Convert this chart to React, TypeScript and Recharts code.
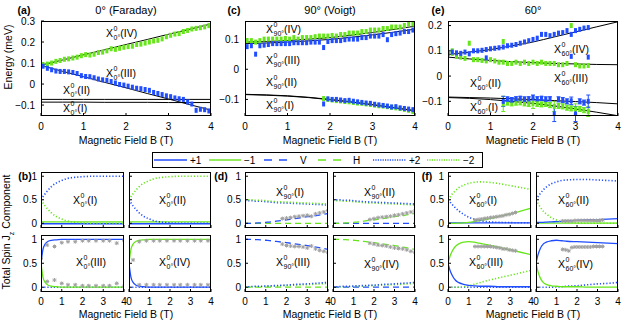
import type { ReactNode } from 'react'
import { ComposedChart, ErrorBar, Line, Scatter, XAxis, YAxis } from 'recharts'

const BLUE = '#1f4dff'
const GREEN = '#66e61a'
const GRAY = '#a0a0a0'
const FONT = '"Liberation Sans", Arial, Helvetica, sans-serif'

// ---- top row: energy vs field ----
const fieldA = [0.05, 0.15, 0.25, 0.35, 0.45, 0.55, 0.65, 0.75, 0.85, 0.95, 1.05, 1.15, 1.25, 1.35, 1.45, 1.55, 1.65, 1.75, 1.85, 1.95, 2.05, 2.15, 2.25, 2.35, 2.45, 2.55, 2.65, 2.75, 2.85, 2.95, 3.05, 3.15, 3.25, 3.35, 3.45, 3.55, 3.65, 3.75, 3.85, 3.95]
const lineField = [0, 0.5, 1, 1.5, 2, 2.5, 3, 3.5, 4]

const aGreen = [0.092, 0.095, 0.1, 0.108, 0.112, 0.118, 0.12, 0.124, 0.128, 0.135, 0.14, 0.138, 0.142, 0.15, 0.152, 0.158, 0.168, 0.165, 0.17, 0.175, 0.178, 0.18, 0.188, 0.19, 0.195, 0.2, 0.205, 0.208, 0.215, 0.225, 0.232, 0.238, 0.24, 0.25, 0.255, 0.262, 0.265, 0.268, 0.272, 0.278]
const aBlue = [0.085, 0.075, 0.068, 0.062, 0.06, 0.06, 0.058, 0.055, 0.05, 0.04, 0.036, 0.035, 0.03, 0.024, 0.02, 0.018, 0.012, 0.005, -0.002, -0.005, -0.01, -0.015, -0.02, -0.022, -0.026, -0.03, -0.04, -0.045, -0.05, -0.056, -0.06, -0.066, -0.07, -0.073, -0.085, -0.095, -0.125, -0.12, -0.122, -0.128]
const aLineIV = [0.09, 0.114, 0.139, 0.163, 0.188, 0.212, 0.237, 0.261, 0.286]
const aLineIII = [0.088, 0.061, 0.035, 0.008, -0.018, -0.045, -0.071, -0.098, -0.124]
const aLineII = [-0.073, -0.073, -0.073, -0.073, -0.073, -0.073, -0.073, -0.073, -0.073]
const aLineI = [-0.086, -0.086, -0.086, -0.087, -0.087, -0.087, -0.088, -0.088, -0.088]

const cGreen = [0.095, 0.095, 0.09, 0.095, 0.1, 0.1, 0.1, 0.1, 0.1, 0.102, 0.1, 0.105, 0.1, 0.105, 0.105, 0.105, 0.108, 0.11, 0.11, 0.11, 0.112, 0.11, 0.115, 0.115, 0.12, 0.12, 0.12, 0.125, 0.125, 0.13, 0.13, 0.13, 0.135, 0.135, 0.14, 0.14, 0.14, 0.145, 0.15, 0.15]
const cBlue = [0.075, 0.078, 0.05, 0.078, 0.08, 0.082, 0.085, 0.085, 0.085, 0.085, 0.085, 0.088, 0.088, 0.088, 0.088, 0.09, 0.09, 0.09, 0.072, 0.092, 0.095, 0.095, 0.095, 0.098, 0.1, 0.1, 0.1, 0.105, 0.105, 0.11, 0.11, 0.11, 0.115, 0.098, 0.115, 0.118, 0.12, 0.125, 0.125, 0.13]
const fieldCLow = [1.85, 1.95, 2.05, 2.15, 2.25, 2.35, 2.45, 2.55, 2.65, 2.75, 2.85, 2.95, 3.05, 3.15, 3.25, 3.35, 3.45, 3.55, 3.65, 3.75, 3.85, 3.95]
const cGreenLow = [-0.097, -0.1, -0.102, -0.104, -0.105, -0.107, -0.108, -0.11, -0.112, -0.113, -0.115, -0.117, -0.119, -0.121, -0.122, -0.124, -0.126, -0.128, -0.13, -0.133, -0.136, -0.14]
const cBlueLow = [-0.115, -0.098, -0.1, -0.1, -0.102, -0.104, -0.103, -0.106, -0.108, -0.11, -0.112, -0.113, -0.116, -0.118, -0.12, -0.122, -0.125, -0.124, -0.128, -0.13, -0.132, -0.134]
const cLineIV = [0.09, 0.092, 0.095, 0.1, 0.105, 0.113, 0.122, 0.132, 0.143]
const cLineIII = [0.085, 0.087, 0.09, 0.094, 0.099, 0.106, 0.114, 0.123, 0.133]
const cLineII = [-0.083, -0.085, -0.088, -0.093, -0.1, -0.108, -0.117, -0.127, -0.137]
const cLineI = [-0.084, -0.086, -0.089, -0.094, -0.101, -0.109, -0.118, -0.128, -0.138]

const fieldE = [0, 0.1, 0.2, 0.3, 0.4, 0.5, 0.6, 0.7, 0.8, 0.9, 1, 1.1, 1.2, 1.3, 1.4, 1.5, 1.6, 1.7, 1.8, 1.9, 2, 2.1, 2.2, 2.3, 2.4, 2.5, 2.6, 2.7, 2.8, 2.9, 3, 3.1, 3.2, 3.3]
const eBlue = [0.09, 0.095, 0.092, 0.09, 0.095, 0.088, 0.1, 0.1, 0.102, 0.105, 0.108, 0.11, 0.112, 0.115, 0.12, 0.122, 0.125, 0.13, 0.135, 0.14, 0.145, 0.15, 0.165, 0.165, 0.16, 0.165, 0.17, 0.172, 0.18, 0.165, 0.18, 0.185, 0.19, 0.192]
const eGreen = [0.085, 0.09, 0.078, 0.075, 0.07, 0.13, 0.065, 0.065, 0.062, 0.06, 0.065, 0.06, 0.055, 0.055, 0.05, 0.05, 0.055, 0.05, 0.055, 0.05, 0.055, 0.05, 0.055, 0.05, 0.05, 0.05, 0.045, 0.045, 0.05, 0.2, 0.045, 0.04, 0.04, 0.042]
const eBlueExtraX = [0.9, 2.9, 3.3]
const eBlueExtra = [0.072, 0.078, 0.075]
const eGreenExtraX = [0.1, 1.3]
const eGreenExtra = [0.1, 0.137]
const fieldELow = [1.3, 1.4, 1.5, 1.6, 1.7, 1.8, 1.9, 2, 2.1, 2.2, 2.3, 2.4, 2.5, 2.6, 2.7, 2.8, 2.9, 3, 3.1, 3.2, 3.3]
const eBlueLow = [-0.1, -0.092, -0.095, -0.09, -0.088, -0.092, -0.09, -0.085, -0.09, -0.088, -0.092, -0.09, -0.15, -0.092, -0.095, -0.1, -0.098, -0.15, -0.1, -0.105, -0.1]
const eBlueLowErr = [0.02, 0.01, 0.01, 0.008, 0.008, 0.01, 0.008, 0.01, 0.008, 0.008, 0.01, 0.008, 0.03, 0.01, 0.01, 0.01, 0.015, 0.03, 0.01, 0.01, 0.025]
const eGreenLow = [-0.11, -0.105, -0.108, -0.105, -0.104, -0.108, -0.11, -0.108, -0.11, -0.112, -0.11, -0.115, -0.12, -0.118, -0.12, -0.125, -0.128, -0.13, -0.13, -0.135, -0.14]
const eGreenLowErr = [0.03, 0.01, 0.01, 0.01, 0.01, 0.01, 0.01, 0.02, 0.01, 0.01, 0.01, 0.01, 0.02, 0.01, 0.01, 0.01, 0.01, 0.02, 0.01, 0.01, 0.02]
const eLineIV = [0.085, 0.095, 0.105, 0.12, 0.135, 0.155, 0.175, 0.195, 0.215]
const eLineIII = [0.075, 0.068, 0.062, 0.057, 0.053, 0.05, 0.048, 0.046, 0.045]
const eLineII = [-0.083, -0.085, -0.087, -0.09, -0.093, -0.097, -0.101, -0.105, -0.11]
const eLineI = [-0.085, -0.088, -0.093, -0.1, -0.108, -0.118, -0.13, -0.143, -0.157]

// ---- bottom row: spin components ----
const curveField = [0, 0.1, 0.2, 0.35, 0.5, 0.75, 1, 1.25, 1.5, 2, 2.5, 3, 3.5, 4]
const zeros = [0, 0, 0, 0, 0, 0, 0, 0, 0, 0, 0, 0, 0, 0]
const bSlowRise = [0.5, 0.57, 0.63, 0.71, 0.78, 0.86, 0.91, 0.95, 0.97, 0.99, 1, 1, 1, 1]
const bSlowFall = [0.5, 0.43, 0.37, 0.29, 0.22, 0.14, 0.09, 0.05, 0.03, 0.01, 0, 0, 0, 0]
const bFlatHi = [0.03, 0.03, 0.03, 0.03, 0.03, 0.03, 0.03, 0.03, 0.03, 0.03, 0.03, 0.03, 0.03, 0.03]
const bFlatLo = [-0.01, -0.01, -0.01, -0.01, -0.01, -0.01, -0.01, -0.01, -0.01, -0.01, -0.01, -0.01, -0.01, -0.01]
const bFastRise = [0.5, 0.8, 0.9, 0.96, 0.98, 0.99, 1, 1, 1, 1, 1, 1, 1, 1]
const bFastFall = [0.5, 0.2, 0.1, 0.04, 0.02, 0.01, 0, 0, 0, 0, 0, 0, 0, 0]
const bIIIgrayX = [0, 0.3, 0.65, 1, 1.3, 1.65, 2, 2.3, 2.65, 3, 3.3, 3.65, 4, 0.3, 0.65, 1, 1.3, 1.65, 2, 2.3, 2.65, 3, 3.3, 3.65, 4]
const bIIIgray = [0.6, 0.88, 0.85, 0.93, 0.95, 0.95, 0.97, 0.97, 0.97, 0.97, 0.97, 0.92, 0.98, 0.12, 0.15, 0.08, 0.05, 0.05, 0.03, 0.03, 0.03, 0.03, 0.03, 0.08, 0.02]
const bIVgrayX = [0.2, 0.5, 0.85, 1.2, 1.5, 1.85, 2.2, 2.5, 2.85, 3.2, 3.5, 3.85, 0.5, 0.85, 1.2, 1.5, 1.85, 2.2, 2.5, 2.85, 3.2, 3.5, 3.85]
const bIVgray = [0.57, 0.95, 0.97, 0.97, 0.97, 0.97, 0.97, 0.97, 0.97, 0.97, 0.97, 0.97, 0.05, 0.05, 0.05, 0.05, 0.05, 0.05, 0.05, 0.05, 0.05, 0.05, 0.05]

const dHalfHi = [0.5, 0.5, 0.5, 0.5, 0.49, 0.49, 0.48, 0.47, 0.46, 0.45, 0.44, 0.43, 0.42, 0.41]
const dHalfLo = [0.48, 0.48, 0.48, 0.48, 0.47, 0.47, 0.46, 0.45, 0.44, 0.43, 0.42, 0.41, 0.4, 0.39]
const dLowRise = [0, 0, 0, 0, 0.005, 0.01, 0.02, 0.03, 0.045, 0.075, 0.105, 0.14, 0.17, 0.21]
const dHighFall = [1, 1, 1, 1, 0.995, 0.99, 0.98, 0.97, 0.955, 0.93, 0.9, 0.87, 0.83, 0.79]
const dDotHi = [0.01, 0.01, 0.01, 0.015, 0.02, 0.02, 0.025, 0.03, 0.035, 0.045, 0.06, 0.07, 0.085, 0.1]
const dDotLo = [0, 0, 0, 0.005, 0.01, 0.01, 0.015, 0.02, 0.025, 0.035, 0.045, 0.055, 0.065, 0.08]
const dGrayX = [1.8, 2, 2.2, 2.4, 2.6, 2.8, 3, 3.2, 3.4, 3.6, 3.8, 4]
const dIgray = [0.1, 0.11, 0.12, 0.14, 0.15, 0.16, 0.17, 0.15, 0.2, 0.22, 0.24, 0.27]
const dIIgray = [0.08, 0.1, 0.12, 0.13, 0.14, 0.15, 0.17, 0.18, 0.2, 0.22, 0.24, 0.26]
const dIIIgray = [0.9, 0.87, 0.86, 0.85, 0.85, 0.84, 0.82, 0.86, 0.8, 0.77, 0.75, 0.73]
const dIVgray = [0.92, 0.9, 0.88, 0.87, 0.86, 0.84, 0.82, 0.81, 0.8, 0.78, 0.75, 0.73]

const fIm2 = [0.5, 0.56, 0.62, 0.69, 0.75, 0.81, 0.85, 0.87, 0.88, 0.87, 0.84, 0.8, 0.76, 0.72]
const fIp2 = [0.5, 0.45, 0.4, 0.33, 0.27, 0.19, 0.13, 0.09, 0.06, 0.03, 0.02, 0.015, 0.01, 0.01]
const fIm1 = [0, 0, 0, 0, 0.003, 0.01, 0.02, 0.035, 0.055, 0.1, 0.15, 0.2, 0.26, 0.32]
const fIp1 = [0.01, 0.01, 0.01, 0.01, 0.01, 0.01, 0.01, 0.01, 0.01, 0.01, 0.01, 0.01, 0.01, 0.01]
const fIIp2 = [0.5, 0.57, 0.63, 0.71, 0.77, 0.84, 0.88, 0.91, 0.92, 0.93, 0.93, 0.92, 0.91, 0.9]
const fIIm2 = [0.5, 0.42, 0.35, 0.26, 0.2, 0.12, 0.07, 0.04, 0.02, 0.01, 0, 0, 0, 0]
const fIIp1 = [0.02, 0.02, 0.02, 0.02, 0.025, 0.03, 0.035, 0.04, 0.05, 0.06, 0.07, 0.08, 0.09, 0.1]
const fIIm1 = [0.005, 0.005, 0.005, 0.005, 0.005, 0.005, 0.005, 0.005, 0.005, 0.005, 0.005, 0.005, 0.005, 0.005]
const fIIIm1 = [0.5, 0.65, 0.75, 0.85, 0.9, 0.94, 0.95, 0.94, 0.92, 0.88, 0.83, 0.78, 0.73, 0.68]
const fIIIp1 = [0.5, 0.35, 0.25, 0.15, 0.1, 0.06, 0.04, 0.03, 0.02, 0.02, 0.01, 0.01, 0.01, 0.01]
const fIIIm2 = [0, 0, 0, 0, 0, 0.01, 0.03, 0.06, 0.09, 0.15, 0.2, 0.25, 0.3, 0.35]
const fIVp1 = [0.5, 0.68, 0.8, 0.9, 0.94, 0.97, 0.98, 0.97, 0.96, 0.95, 0.94, 0.93, 0.92, 0.91]
const fIVm1 = [0.5, 0.32, 0.2, 0.1, 0.06, 0.03, 0.02, 0.01, 0.01, 0.01, 0, 0, 0, 0]
const fIVp2 = [0, 0, 0, 0, 0, 0, 0.005, 0.01, 0.02, 0.03, 0.05, 0.07, 0.08, 0.1]
const fGrayX = [1.3, 1.45, 1.6, 1.75, 1.9, 2.05, 2.2, 2.35, 2.5, 2.65, 2.8, 2.95, 3.1, 3.25]
const fIgray = [0.07, 0.08, 0.09, 0.1, 0.11, 0.12, 0.13, 0.14, 0.15, 0.16, 0.18, 0.19, 0.21, 0.23]
const fIIgray = [0.05, 0.05, 0.05, 0.05, 0.06, 0.06, 0.06, 0.06, 0.06, 0.06, 0.06, 0.06, 0.06, 0.07]
const fIIIgray = [0.85, 0.85, 0.85, 0.85, 0.85, 0.85, 0.84, 0.83, 0.82, 0.8, 0.8, 0.78, 0.77, 0.76]
const fIVgray = [0.79, 0.78, 0.76, 0.83, 0.84, 0.84, 0.84, 0.84, 0.84, 0.84, 0.85, 0.85, 0.85, 0.85]

type Box = { x: number; y: number; w: number; h: number }
type Opts = {
  box: Box
  domain: [number, number]
  yTicks: number[]
  yLabels: boolean
  xLabels: boolean
  yw: number
  xh: number
  yMargin: number
  xMargin: number
}

// room left around the plot box so edge tick labels are not clipped
const PAD_TOP = 7
const PAD_RIGHT = 8

const pts = (xs: number[], ys: number[], es?: number[]) =>
  xs.map((x, i) => ({ x, y: ys[i], e: es ? es[i] : 0 }))

const fmt = (v: number) => String(v).replace('-', '\u2212')
const blank = () => ''
const tickStyle = { fontSize: 10, fill: '#000', fontFamily: FONT }

function curve(key: string, xs: number[], ys: number[], color: string, style = 'solid', w = 1.3) {
  const dash = style === 'dash' ? '6 4' : style === 'dot' ? '1.2 2' : undefined
  return (
    <Line key={key} data={pts(xs, ys)} dataKey="y" type="monotone" stroke={color}
      strokeWidth={style === 'dot' ? 1.6 : w} strokeDasharray={dash} dot={false}
      activeDot={false} isAnimationActive={false} />
  )
}

const rectShape = (color: string) => (p: any) =>
  <rect x={p.cx - 1.5} y={p.cy - 2.5} width={3} height={5} fill={color} />

function marks(key: string, xs: number[], ys: number[], color: string, es?: number[]) {
  return (
    <Scatter key={key} data={pts(xs, ys, es)} dataKey="y" shape={rectShape(color)} isAnimationActive={false}>
      {es ? <ErrorBar dataKey="e" direction="y" width={2} stroke={color} strokeWidth={1} /> : null}
    </Scatter>
  )
}

const starShape = (p: any) => {
  const { cx, cy } = p
  return (
    <g stroke={GRAY} strokeWidth={1}>
      <line x1={cx - 2} y1={cy} x2={cx + 2} y2={cy} />
      <line x1={cx} y1={cy - 2} x2={cx} y2={cy + 2} />
      <line x1={cx - 1.5} y1={cy - 1.5} x2={cx + 1.5} y2={cy + 1.5} />
      <line x1={cx - 1.5} y1={cy + 1.5} x2={cx + 1.5} y2={cy - 1.5} />
    </g>
  )
}

function gray(key: string, xs: number[], ys: number[]) {
  return <Scatter key={key} data={pts(xs, ys)} dataKey="y" shape={starShape} isAnimationActive={false} />
}

function panel(key: string, o: Opts, items: ReactNode[]) {
  const W = o.box.w + o.yw + PAD_RIGHT
  const H = o.box.h + PAD_TOP + o.xh
  const ax = { type: 'number' as const, allowDataOverflow: true, axisLine: false, tickSize: -3, tickLine: { stroke: '#000' } }
  return (
    <div key={key} style={{ position: 'absolute', left: o.box.x - o.yw, top: o.box.y - PAD_TOP, width: W, height: H }}>
      <ComposedChart width={W} height={H} margin={{ top: PAD_TOP, right: PAD_RIGHT, left: 0, bottom: 0 }}>
        <XAxis {...ax} dataKey="x" domain={[0, 4]} ticks={[0, 1, 2, 3, 4]} interval={0} height={o.xh}
          tickMargin={o.xMargin} tick={tickStyle} tickFormatter={o.xLabels ? fmt : blank} />
        <XAxis {...ax} xAxisId="t" orientation="top" domain={[0, 4]} ticks={[0, 1, 2, 3, 4]} interval={0}
          height={0} tick={tickStyle} tickFormatter={blank} />
        <YAxis {...ax} dataKey="y" domain={o.domain} ticks={o.yTicks} interval={0} width={o.yw}
          tickMargin={o.yMargin} tick={tickStyle} tickFormatter={o.yLabels ? fmt : blank} />
        <YAxis {...ax} yAxisId="r" orientation="right" domain={o.domain} ticks={o.yTicks} interval={0}
          width={0} tick={tickStyle} tickFormatter={blank} />
        {items}
      </ComposedChart>
      <div style={{ position: 'absolute', left: o.yw, top: PAD_TOP, width: o.box.w, height: o.box.h, border: '1px solid #000', boxSizing: 'border-box', pointerEvents: 'none' }} />
    </div>
  )
}

const topOpts = (x: number, domain: [number, number], yTicks: number[]): Opts => ({
  box: { x, y: 21, w: 170, h: 95 }, domain, yTicks, yLabels: true, xLabels: true, yw: 34, xh: 20, yMargin: 9, xMargin: 10,
})

const subOpts = (x: number, right: boolean, bottom: boolean): Opts => ({
  box: { x, y: bottom ? 235 : 172, w: right ? 82 : 83, h: bottom ? 57 : 56 },
  domain: [-0.1, 1.09], yTicks: [0, 0.5, 1], yLabels: !right, xLabels: bottom,
  yw: 30, xh: bottom ? 16 : 2, yMargin: 7, xMargin: 9,
})

function XName({ x, y, sub, n }: { x: number; y: number; sub: string; n: string }) {
  return (
    <div style={{ position: 'absolute', left: x, top: y, transform: 'translateY(-50%)', display: 'flex', alignItems: 'center', fontSize: 10.5, whiteSpace: 'nowrap', lineHeight: 1 }}>
      <span>X</span>
      <span style={{ display: 'inline-flex', flexDirection: 'column', fontSize: 7, lineHeight: '7px', marginLeft: 0.5 }}>
        <span style={{ position: 'relative', top: -1 }}>0</span>
        <span style={{ position: 'relative', top: 1 }}>{sub}</span>
      </span>
      <span>({n})</span>
    </div>
  )
}

function Text({ x, y, children, bold, size = 10.5 }: { x: number; y: number; children: ReactNode; bold?: boolean; size?: number }) {
  return (
    <div style={{ position: 'absolute', left: x, top: y, transform: 'translate(-50%, -50%)', fontSize: size, fontWeight: bold ? 'bold' : 'normal', whiteSpace: 'nowrap', lineHeight: 1 }}>
      {children}
    </div>
  )
}

function VText({ x, y, children }: { x: number; y: number; children: ReactNode }) {
  return (
    <div style={{ position: 'absolute', left: x, top: y, transform: 'translate(-50%, -50%) rotate(-90deg)', fontSize: 10.5, whiteSpace: 'nowrap', lineHeight: 1 }}>
      {children}
    </div>
  )
}

function LegendBox() {
  const items = [
    { x1: 2, x2: 35, tx: 38, color: BLUE, dash: undefined, label: '+1' },
    { x1: 57, x2: 89, tx: 92, color: GREEN, dash: undefined, label: '\u22121' },
    { x1: 112, x2: 136, tx: 148, color: BLUE, dash: '8 7', label: 'V' },
    { x1: 166, x2: 191, tx: 201, color: GREEN, dash: '8 7', label: 'H' },
    { x1: 221, x2: 254, tx: 257, color: BLUE, dash: '1.2 1.2', label: '+2' },
    { x1: 275, x2: 308, tx: 311, color: GREEN, dash: '1.2 1.2', label: '\u22122' },
  ]
  return (
    <svg style={{ position: 'absolute', left: 152, top: 152 }} width={332} height={17}>
      <rect x={0.5} y={0.5} width={330} height={15} fill="#fff" stroke="#000" />
      {items.map((it) => (
        <g key={it.label}>
          <line x1={it.x1} x2={it.x2} y1={8} y2={8} stroke={it.color} strokeWidth={1.4} strokeDasharray={it.dash} />
          <text x={it.tx} y={11.5} fontSize={10} fontFamily={FONT}>{it.label}</text>
        </g>
      ))}
    </svg>
  )
}

export default function App() {
  const L = [41, 245, 448]
  const R = [129, 333, 536]
  return (
    <div style={{ position: 'absolute', left: 0, top: 0, width: 627, height: 322, background: '#fff', fontFamily: FONT, color: '#000', overflow: 'hidden' }}>
      {panel('a', topOpts(41, [-0.152, 0.3], [-0.1, 0, 0.1, 0.2, 0.3]), [
        marks('ag', fieldA, aGreen, GREEN),
        marks('ab', fieldA, aBlue, BLUE),
        curve('a4', lineField, aLineIV, '#000', 'solid', 1),
        curve('a3', lineField, aLineIII, '#000', 'solid', 1),
        curve('a2', lineField, aLineII, '#000', 'solid', 1),
        curve('a1', lineField, aLineI, '#000', 'solid', 1),
      ])}
      {panel('c', topOpts(245, [-0.155, 0.16], [-0.1, 0, 0.1]), [
        curve('c4', lineField, cLineIV, '#000', 'solid', 1),
        curve('c3', lineField, cLineIII, '#000', 'solid', 1),
        curve('c2', lineField, cLineII, '#000', 'solid', 1),
        curve('c1', lineField, cLineI, '#000', 'solid', 1),
        marks('cg', fieldA, cGreen, GREEN),
        marks('cb', fieldA, cBlue, BLUE),
        marks('cgl', fieldCLow, cGreenLow, GREEN),
        marks('cbl', fieldCLow, cBlueLow, BLUE),
      ])}
      {panel('e', topOpts(448, [-0.158, 0.218], [-0.1, 0, 0.1, 0.2]), [
        marks('eg', fieldE, eGreen, GREEN),
        marks('egx', eGreenExtraX, eGreenExtra, GREEN),
        marks('eb', fieldE, eBlue, BLUE),
        marks('ebx', eBlueExtraX, eBlueExtra, BLUE),
        marks('egl', fieldELow, eGreenLow, GREEN, eGreenLowErr),
        marks('ebl', fieldELow, eBlueLow, BLUE, eBlueLowErr),
        curve('e4', lineField, eLineIV, '#000', 'solid', 1),
        curve('e3', lineField, eLineIII, '#000', 'solid', 1),
        curve('e2', lineField, eLineII, '#000', 'solid', 1),
        curve('e1', lineField, eLineI, '#000', 'solid', 1),
      ])}

      {panel('b1', subOpts(L[0], false, false), [
        curve('p1', curveField, bFlatLo, BLUE), curve('m1', curveField, bFlatHi, GREEN),
        curve('p2', curveField, bSlowRise, BLUE, 'dot'), curve('m2', curveField, bSlowFall, GREEN, 'dot'),
      ])}
      {panel('b2', subOpts(R[0], true, false), [
        curve('p1', curveField, bFlatLo, BLUE), curve('m1', curveField, bFlatHi, GREEN),
        curve('p2', curveField, bSlowFall, BLUE, 'dot'), curve('m2', curveField, bSlowRise, GREEN, 'dot'),
      ])}
      {panel('b3', subOpts(L[0], false, true), [
        curve('p2', curveField, zeros, BLUE, 'dot'),
        curve('p1', curveField, bFastRise, BLUE), curve('m1', curveField, bFastFall, GREEN),
        gray('g', bIIIgrayX, bIIIgray),
      ])}
      {panel('b4', subOpts(R[0], true, true), [
        curve('p2', curveField, zeros, BLUE, 'dot'),
        curve('p1', curveField, bFastFall, BLUE), curve('m1', curveField, bFastRise, GREEN),
        gray('g', bIVgrayX, bIVgray),
      ])}

      {panel('d1', subOpts(L[1], false, false), [
        curve('h', curveField, zeros, GREEN, 'dash'), curve('v', curveField, dLowRise, BLUE, 'dash'),
        curve('p2', curveField, dHalfLo, BLUE, 'dot'), curve('m2', curveField, dHalfHi, GREEN, 'dot'),
        gray('g', dGrayX, dIgray),
      ])}
      {panel('d2', subOpts(R[1], true, false), [
        curve('v', curveField, zeros, BLUE, 'dash'), curve('h', curveField, dLowRise, GREEN, 'dash'),
        curve('m2', curveField, dHalfLo, GREEN, 'dot'), curve('p2', curveField, dHalfHi, BLUE, 'dot'),
        gray('g', dGrayX, dIIgray),
      ])}
      {panel('d3', subOpts(L[1], false, true), [
        curve('h', curveField, zeros, GREEN, 'dash'), curve('v', curveField, dHighFall, BLUE, 'dash'),
        curve('m2', curveField, dDotLo, GREEN, 'dot'), curve('p2', curveField, dDotHi, BLUE, 'dot'),
        gray('g', dGrayX, dIIIgray),
      ])}
      {panel('d4', subOpts(R[1], true, true), [
        curve('v', curveField, zeros, BLUE, 'dash'), curve('h', curveField, dHighFall, GREEN, 'dash'),
        curve('m2', curveField, dDotLo, GREEN, 'dot'), curve('p2', curveField, dDotHi, BLUE, 'dot'),
        gray('g', dGrayX, dIVgray),
      ])}

      {panel('f1', subOpts(L[2], false, false), [
        curve('p1', curveField, fIp1, BLUE), curve('m1', curveField, fIm1, GREEN),
        curve('p2', curveField, fIp2, BLUE, 'dot'), curve('m2', curveField, fIm2, GREEN, 'dot'),
        gray('g', fGrayX, fIgray),
      ])}
      {panel('f2', subOpts(R[2], true, false), [
        curve('m1', curveField, fIIm1, GREEN), curve('p1', curveField, fIIp1, BLUE),
        curve('p2', curveField, fIIp2, BLUE, 'dot'), curve('m2', curveField, fIIm2, GREEN, 'dot'),
        gray('g', fGrayX, fIIgray),
      ])}
      {panel('f3', subOpts(L[2], false, true), [
        curve('p2', curveField, zeros, BLUE, 'dot'), curve('m2', curveField, fIIIm2, GREEN, 'dot'),
        curve('p1', curveField, fIIIp1, BLUE), curve('m1', curveField, fIIIm1, GREEN),
        gray('g', fGrayX, fIIIgray),
      ])}
      {panel('f4', subOpts(R[2], true, true), [
        curve('p2', curveField, fIVp2, BLUE, 'dot'),
        curve('m1', curveField, fIVm1, GREEN), curve('p1', curveField, fIVp1, BLUE),
        gray('g', fGrayX, fIVgray),
      ])}

      <Text x={24} y={10} bold>(a)</Text>
      <Text x={234} y={10} bold>(c)</Text>
      <Text x={438} y={10} bold>(e)</Text>
      <Text x={25} y={176} bold>(b)</Text>
      <Text x={221} y={176} bold>(d)</Text>
      <Text x={427} y={176} bold>(f)</Text>
      <Text x={126} y={10} size={11}>0° (Faraday)</Text>
      <Text x={330} y={10} size={11}>90° (Voigt)</Text>
      <Text x={533} y={10} size={11}>60°</Text>
      <Text x={126} y={140}>Magnetic Field B (T)</Text>
      <Text x={330} y={140}>Magnetic Field B (T)</Text>
      <Text x={533} y={140}>Magnetic Field B (T)</Text>
      <Text x={126} y={314}>Magnetic Field B (T)</Text>
      <Text x={330} y={314}>Magnetic Field B (T)</Text>
      <Text x={533} y={314}>Magnetic Field B (T)</Text>
      <VText x={8} y={57}>Energy (meV)</VText>
      <VText x={8} y={232}>Total Spin J<sub style={{ fontSize: 7 }}>z</sub> Component</VText>

      <XName x={106} y={33} sub="0°" n="IV" />
      <XName x={106} y={73} sub="0°" n="III" />
      <XName x={63} y={90} sub="0°" n="II" />
      <XName x={63} y={108} sub="0°" n="I" />
      <XName x={266} y={29} sub="90°" n="IV" />
      <XName x={266} y={60} sub="90°" n="III" />
      <XName x={266} y={82} sub="90°" n="II" />
      <XName x={266} y={105} sub="90°" n="I" />
      <XName x={554} y={49} sub="60°" n="IV" />
      <XName x={554} y={78} sub="60°" n="III" />
      <XName x={470} y={83} sub="60°" n="II" />
      <XName x={470} y={107} sub="60°" n="I" />

      <XName x={73} y={200} sub="0°" n="I" />
      <XName x={159} y={200} sub="0°" n="II" />
      <XName x={76} y={262} sub="0°" n="III" />
      <XName x={159} y={262} sub="0°" n="IV" />
      <XName x={276} y={192} sub="90°" n="I" />
      <XName x={364} y={192} sub="90°" n="II" />
      <XName x={276} y={262} sub="90°" n="III" />
      <XName x={364} y={264} sub="90°" n="IV" />
      <XName x={469} y={200} sub="60°" n="I" />
      <XName x={558} y={200} sub="60°" n="II" />
      <XName x={469} y={262} sub="60°" n="III" />
      <XName x={558} y={264} sub="60°" n="IV" />

      <LegendBox />
    </div>
  )
}
